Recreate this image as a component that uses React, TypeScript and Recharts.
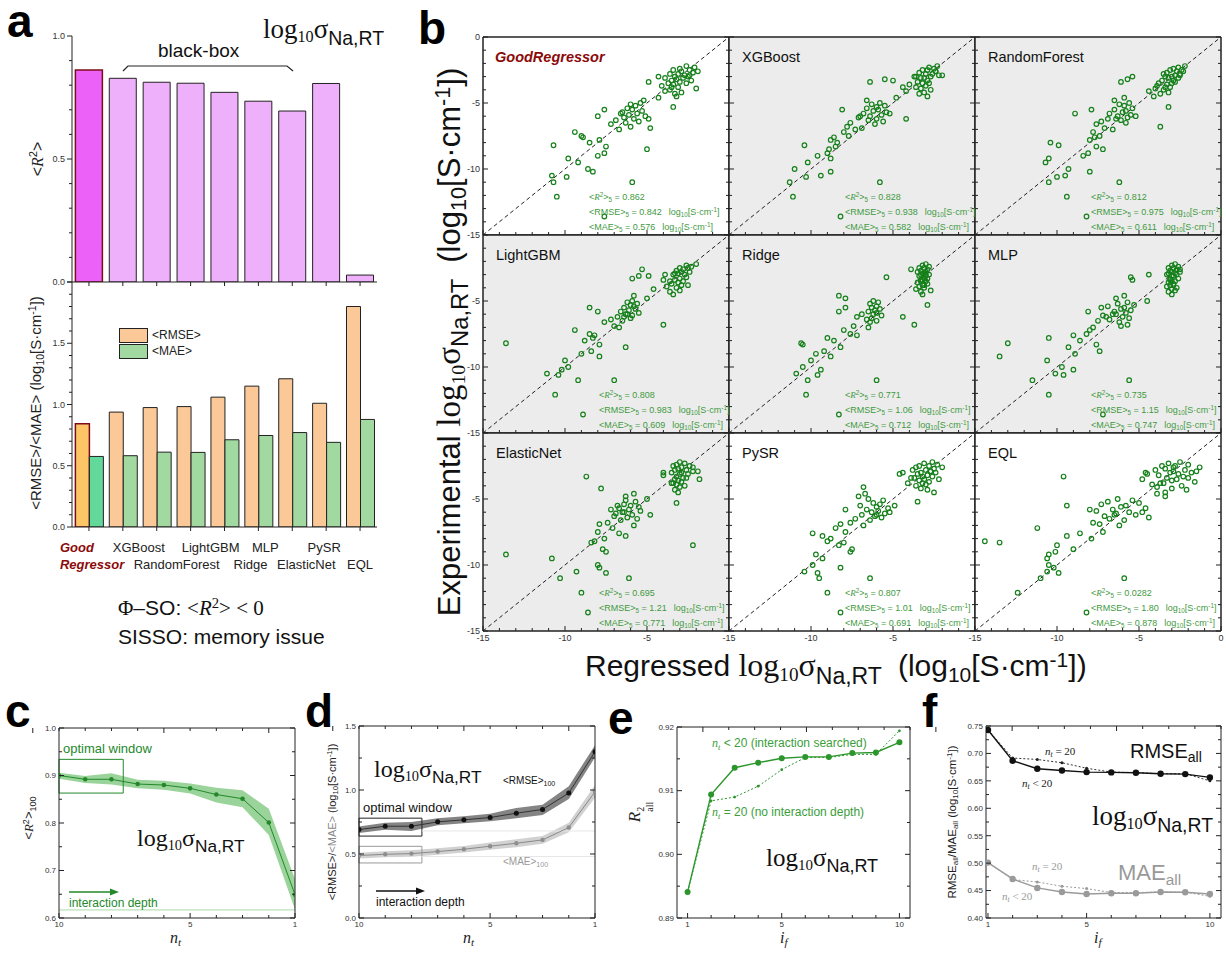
import React from 'react';
import {
  BarChart,
  Bar,
  Cell,
  XAxis,
  YAxis,
  ScatterChart,
  Scatter,
  ComposedChart,
  Line,
  Area,
  ReferenceLine,
  ReferenceArea,
  CartesianGrid,
} from 'recharts';

const SANS = '"Liberation Sans", Arial, Helvetica, sans-serif';
const SERIF = '"Liberation Serif", "Times New Roman", serif';

// ---- panel a / b: five-fold averages per model
const models = ['GoodRegressor', 'XGBoost', 'RandomForest', 'LightGBM', 'Ridge', 'MLP', 'ElasticNet', 'PySR', 'EQL'];
const r2Mean = [0.862, 0.828, 0.812, 0.808, 0.771, 0.735, 0.695, 0.807, 0.0282];
const rmseMean = [0.842, 0.938, 0.975, 0.983, 1.06, 1.15, 1.21, 1.01, 1.8];
const maeMean = [0.576, 0.582, 0.611, 0.609, 0.712, 0.747, 0.771, 0.691, 0.878];

// ---- panel b: experimental log10 sigma (shared) and regressed values per model
const experimental = [
  -2.2, -2.3, -2.4, -2.5, -2.5, -2.6, -2.7, -2.8, -2.8, -2.9,
  -3.0, -3.0, -3.1, -3.1, -3.2, -3.3, -3.3, -3.4, -3.5, -3.5,
  -3.6, -3.7, -3.8, -3.9, -4.0, -4.1, -4.2, -4.3, -4.5, -2.6,
  -3.0, -3.4, -3.8, -2.9,
  -5.0, -5.1, -5.2, -5.3, -5.4, -5.5, -5.6, -5.7, -5.8, -5.9,
  -6.0, -6.1, -6.2, -6.3, -6.4, -6.5, -6.6, -6.8, -7.0, -5.5,
  -5.8, -6.0, -6.2, -4.8, -4.6, -6.9,
  -7.2, -7.5, -7.8, -8.0, -8.2, -8.3, -8.5, -9.0, -9.2, -9.5,
  -10.0, -10.2, -10.5, -10.6, -11.0, -11.0, -12.1, -13.6, -7.6, -8.8,
];
const predGood = [
  -2.6, -2.1, -3.0, -2.4, -3.4, -2.9, -2.2, -3.1, -3.6, -2.7, -3.3, -2.5, -3.9, -2.8, -3.2, -3.5, -2.3, -3.0, -3.7, -2.6,
  -3.4, -4.1, -3.1, -2.0, -3.6, -3.9, -2.9, -3.3, -3.2, -1.9, -4.3, -4.9, -3.5, -2.4,
  -5.4, -6.0, -5.7, -3.4, -6.2, -5.9, -5.3, -6.5, -5.6, -6.1, -5.1, -6.4, -5.8, -6.9, -5.5, -6.3, -7.2, -6.0, -6.7, -7.6,
  -6.6, -8.0, -4.9, -5.2, -4.3, -4.8,
  -9.4, -9.0, -7.9, -8.5, -10.7, -7.5, -5.0, -8.0, -9.8, -9.2, -8.6, -8.3, -10.8, -9.9, -10.7, -5.9, -10.5, -7.6, -8.9, -7.6,
];
const predXGB = [
  -2.3, -2.8, -2.5, -3.2, -2.9, -2.4, -3.4, -2.6, -3.0, -2.2, -3.6, -2.7, -3.1, -3.3, -5.5, -5.0, -2.9, -3.5, -2.8, -3.2,
  -4.0, -3.0, -3.6, -3.3, -2.7, -4.2, -3.1, -3.4, -2.9, -2.4, -3.7, -6.4, -4.4, -2.0,
  -5.8, -6.3, -5.5, -6.0, -6.6, -5.9, -6.2, -5.4, -6.8, -5.7, -6.4, -7.1, -6.0, -6.5, -5.6, -7.6, -6.1, -7.8, -7.3, -8.1,
  -5.2, -7.0, -4.2, -6.6, -4.8, -6.9,
  -8.0, -7.7, -8.8, -8.4, -10.4, -8.5, -8.9, -9.6, -8.8, -10.2, -11.0, -8.8, -9.4, -10.3, -11.3, -5.8, -11.1, -8.2, -8.6, -9.0,
];
const predRF = [
  -2.2, -2.6, -2.9, -2.4, -3.1, -2.7, -3.3, -2.5, -3.5, -2.8, -3.0, -3.4, -2.6, -3.2, -5.7, -2.9, -3.6, -6.1, -3.0, -3.8,
  -3.3, -3.9, -3.1, -4.0, -3.5, -4.4, -3.2, -3.7, -4.1, -2.3, -5.4, -2.8, -3.4, -2.5,
  -5.6, -6.2, -5.9, -3.2, -5.4, -6.5, -5.8, -6.0, -6.8, -5.5, -6.3, -5.7, -6.9, -6.1, -7.3, -5.8, -7.6, -3.7, -6.6, -7.9,
  -8.9, -5.2, -6.4, -6.5, -5.9, -7.1,
  -7.8, -7.4, -8.0, -10.4, -9.9, -7.6, -7.2, -8.4, -10.5, -10.7, -9.3, -8.0, -9.5, -10.0, -10.5, -6.2, -9.4, -8.2, -7.7, -8.1,
];
const predLGBM = [
  -2.0, -2.6, -2.3, -3.0, -2.5, -2.8, -3.2, -2.4, -2.9, -3.1, -2.7, -3.4, -4.9, -5.5, -2.6, -3.0, -5.9, -3.3, -2.8, -3.6,
  -3.1, -3.5, -2.9, -3.8, -3.2, -4.6, -3.0, -3.6, -3.4, -5.3, -3.9, -4.0, -2.5, -3.3,
  -5.9, -6.2, -5.6, -6.0, -5.8, -6.4, -5.7, -6.1, -6.6, -5.5, -6.3, -5.9, -6.8, -6.0, -7.2, -6.5, -7.6, -4.0, -6.7, -8.5,
  -8.0, -6.2, -6.4, -5.0, -5.8, -7.0,
  -9.4, -8.5, -8.3, -8.8, -13.6, -7.9, -6.3, -9.0, -7.9, -10.0, -9.8, -10.2, -11.1, -10.4, -9.2, -7.0, -10.6, -8.9, -8.2, -8.4,
];
const predRidge = [
  -3.0, -3.2, -2.8, -3.4, -3.1, -2.9, -3.3, -3.0, -3.5, -3.1, -2.8, -3.3, -3.0, -3.4, -5.4, -3.1, -2.9, -3.2, -3.3, -3.0,
  -3.5, -2.9, -3.2, -3.4, -3.1, -3.6, -2.7, -3.3, -3.2, -3.9, -3.0, -3.3, -3.1, -3.2,
  -6.2, -5.9, -6.4, -2.9, -6.0, -6.3, -5.8, -6.1, -6.5, -6.0, -6.2, -5.7, -4.4, -6.3, -6.6, -6.0, -6.4, -3.7, -6.5, -7.9,
  -8.3, -6.9, -7.2, -7.9, -8.3, -7.4,
  -8.0, -7.6, -9.0, -8.6, -10.6, -10.5, -8.2, -9.7, -8.8, -10.0, -10.5, -9.4, -10.9, -9.6, -10.2, -6.0, -10.3, -8.3, -7.2, -9.2,
];
const predMLP = [
  -2.8, -3.0, -2.6, -3.2, -2.9, -2.7, -3.1, -2.5, -3.0, -2.8, -3.3, -2.7, -3.0, -2.9, -5.5, -3.1, -2.6, -5.4, -3.0, -2.8,
  -3.2, -2.9, -3.1, -3.3, -2.7, -3.0, -2.8, -3.2, -3.0, -2.5, -4.4, -3.1, -2.9, -3.2,
  -4.5, -5.7, -6.3, -5.3, -6.9, -5.9, -6.1, -5.5, -6.5, -5.8, -6.4, -7.2, -6.0, -5.6, -6.8, -7.5, -6.2, -5.7, -7.8, -7.3,
  -8.1, -6.6, -7.0, -6.4, -5.9, -6.1,
  -8.0, -8.2, -10.5, -8.6, -13.0, -7.6, -9.3, -8.9, -13.5, -10.6, -9.7, -9.0, -10.1, -9.6, -11.5, -5.6, -10.5, -7.2, -9.0, -7.4,
];
const predEN = [
  -3.0, -2.7, -3.2, -2.4, -3.4, -2.9, -3.1, -2.6, -3.3, -2.2, -2.9, -3.5, -2.5, -3.0, -4.0, -3.2, -8.7, -2.8, -3.3, -1.8,
  -3.1, -2.9, -3.4, -3.2, -2.7, -3.0, -7.8, -3.3, -3.1, -2.2, -4.0, -2.6, -3.5, -1.9,
  -5.0, -6.3, -5.7, -3.2, -6.4, -6.0, -5.5, -6.7, -6.1, -5.4, -6.4, -6.9, -5.9, -7.0, -6.2, -5.6, -6.6, -7.4, -5.8, -6.8,
  -7.2, -6.5, -4.8, -6.3, -5.8, -7.9,
  -7.1, -8.0, -6.3, -7.6, -8.2, -8.4, -2.2, -7.5, -13.6, -10.8, -8.0, -7.9, -9.3, -7.5, -10.3, -6.1, -9.0, -8.6, -6.7, -7.7,
];
const predPySR = [
  -2.6, -3.1, -2.3, -3.4, -2.8, -3.6, -2.5, -3.0, -3.8, -2.7, -3.3, -2.4, -4.6, -3.5, -2.9, -3.2, -2.6, -3.9, -3.1, -2.2,
  -3.4, -2.8, -4.1, -3.0, -3.6, -6.8, -3.3, -2.9, -2.5, -2.0, -4.4, -3.7, -3.2, -2.7,
  -6.5, -5.6, -3.5, -6.2, -5.8, -7.0, -6.0, -5.3, -6.6, -5.9, -6.3, -5.5, -6.9, -6.1, -5.7, -7.3, -6.4, -7.6, -6.8, -4.9,
  -7.9, -5.2, -6.0, -7.1, -6.7, -8.2,
  -8.5, -7.9, -9.3, -8.8, -9.0, -8.0, -8.3, -7.6, -9.7, -9.3, -9.9, -8.2, -10.4, -9.6, -9.5, -6.4, -9.0, -8.2, -9.9, -7.5,
];
const predEQL = [
  -2.5, -3.2, -2.0, -3.6, -2.8, -1.3, -3.4, -2.2, -4.0, -2.9, -1.8, -3.1, -4.5, -2.6, -3.8, -9.6, -2.3, -3.3, -4.8, -2.7,
  -3.0, -1.6, -3.5, -4.2, -2.4, -3.9, -3.0, -2.1, -3.4, -2.9, -4.6, -2.0, -3.7, -1.5,
  -6.3, -5.4, -6.9, -5.0, -7.3, -5.8, -6.1, -4.6, -6.6, -7.6, -5.6, -6.4, -5.2, -7.1, -4.4, -6.8, -5.9, -7.8, -6.2, -9.4,
  -8.0, -4.8, -6.5, -3.4, -3.9, -7.4,
  -11.2, -7.2, -9.4, -7.9, -14.4, -13.5, -10.0, -10.1, -10.5, -10.6, -10.5, -10.2, -10.6, -9.9, -11.0, -5.9, -12.4, -8.2, -8.6, -9.0,
];
const predicted = [predGood, predXGB, predRF, predLGBM, predRidge, predMLP, predEN, predPySR, predEQL];

// ---- panel c / d: versus interaction depth n_t
const nt = [10, 9, 8, 7, 6, 5, 4, 3, 2, 1];
const r2At = [0.9, 0.892, 0.892, 0.882, 0.88, 0.873, 0.86, 0.851, 0.801, 0.649];
const r2Lo = [0.893, 0.884, 0.881, 0.873, 0.87, 0.862, 0.843, 0.833, 0.775, 0.618];
const r2Hi = [0.906, 0.899, 0.905, 0.891, 0.889, 0.883, 0.874, 0.869, 0.83, 0.682];
const rmseAt = [0.691, 0.717, 0.717, 0.751, 0.767, 0.785, 0.819, 0.848, 0.976, 1.299];
const rmseLo = [0.665, 0.69, 0.68, 0.725, 0.74, 0.755, 0.78, 0.805, 0.93, 1.255];
const rmseHi = [0.715, 0.745, 0.75, 0.78, 0.795, 0.815, 0.86, 0.885, 1.03, 1.35];
const maeAt = [0.488, 0.498, 0.503, 0.519, 0.537, 0.561, 0.584, 0.61, 0.707, 0.986];
const maeLo = [0.465, 0.475, 0.478, 0.495, 0.512, 0.533, 0.553, 0.58, 0.67, 0.94];
const maeHi = [0.51, 0.522, 0.53, 0.545, 0.562, 0.59, 0.615, 0.64, 0.745, 1.04];
const r2AxisTicks = [0.6, 0.65, 0.7, 0.75, 0.8, 0.85, 0.9, 0.95, 1.0];

// ---- panel e / f: versus i_f
const iF = [1, 2, 3, 4, 5, 6, 7, 8, 9, 10];
const r2Searched = [0.8941, 0.9094, 0.9136, 0.9144, 0.9151, 0.9153, 0.9153, 0.9159, 0.916, 0.9176];
const r2Fixed = [0.8941, 0.9084, 0.909, 0.9107, 0.9133, 0.9152, 0.9152, 0.9157, 0.9157, 0.9194];
const rmseSearched = [0.7427, 0.6867, 0.672, 0.669, 0.666, 0.6654, 0.6648, 0.663, 0.6623, 0.6563];
const rmseFixed = [0.7427, 0.6916, 0.689, 0.683, 0.673, 0.666, 0.665, 0.663, 0.663, 0.65];
const maeSearched = [0.501, 0.4712, 0.4548, 0.4475, 0.4438, 0.445, 0.445, 0.4475, 0.4469, 0.4438];
const maeFixed = [0.501, 0.47, 0.4657, 0.4578, 0.4536, 0.4463, 0.4463, 0.4475, 0.447, 0.4396];

// helpers
const steps = (a: number, b: number, s: number) => {
  const out: number[] = [];
  for (let k = 0; a + k * s <= b + 1e-9; k++) out.push(Math.round((a + k * s) * 10000) / 10000);
  return out;
};
const every = (s: number) => (v: number) => Math.abs(v / s - Math.round(v / s)) < 1e-6;
const fixed = (d: number) => (v: number) => v.toFixed(d);
// widen a domain by a hair so end ticks are not lost to float rounding
const pad = (a: number, b: number) => [a - (b - a) * 1e-6, b + (b - a) * 1e-6];

type Side = 'bottom' | 'top' | 'left' | 'right';
const makeTick = (o: {
  side: Side;
  isMajor?: (v: number) => boolean;
  label?: (v: number) => string | null;
  outward?: boolean;
  major?: number;
  minor?: number;
  fontSize?: number;
  gap?: number;
}) => (p: any) => {
  const { x, y, payload } = p;
  const v = payload.value;
  const maj = o.isMajor ? o.isMajor(v) : true;
  const len = maj ? o.major ?? 5 : o.minor ?? 3;
  const dir = o.side === 'bottom' ? [0, 1] : o.side === 'top' ? [0, -1] : o.side === 'left' ? [-1, 0] : [1, 0];
  const s = o.outward ? 1 : -1;
  const label = maj && o.label ? o.label(v) : null;
  const fs = o.fontSize ?? 9;
  const off = (o.gap ?? 3) + (o.outward ? len : 0);
  const tx = x + dir[0] * off;
  let ty = y + dir[1] * off;
  let anchor = 'middle';
  if (o.side === 'bottom') ty += fs * 0.8;
  if (o.side === 'left') { anchor = 'end'; ty += fs * 0.35; }
  if (o.side === 'right') { anchor = 'start'; ty += fs * 0.35; }
  return (
    <g>
      <line x1={x} y1={y} x2={x + dir[0] * len * s} y2={y + dir[1] * len * s} stroke="#222" strokeWidth={1} />
      {label !== null && (
        <text x={tx} y={ty} textAnchor={anchor} fontSize={fs} fontFamily={SANS} fill="#333">
          {label}
        </text>
      )}
    </g>
  );
};

// axes need a non-zero size to render, so each takes 1px and the margins give that 1px back
const AX = 1;
const shrink = (m: { top: number; right: number; bottom: number; left: number }) => ({
  top: m.top - AX,
  right: m.right - AX,
  bottom: m.bottom - AX,
  left: m.left - AX,
});

function frame(o: {
  xKey: string;
  yKey?: string;
  xDomain: number[];
  yDomain: number[];
  xTicks: number[];
  yTicks: number[];
  xMajor: (v: number) => boolean;
  yMajor: (v: number) => boolean;
  xFmt?: (v: number) => string | null;
  yFmt?: (v: number) => string | null;
  reversed?: boolean;
  fs?: number;
  axisWidth?: number;
}) {
  const ax = { stroke: '#222', strokeWidth: o.axisWidth ?? 1 };
  const base: any = { type: 'number', interval: 0, tickSize: 0, tickMargin: 0, tickLine: false, axisLine: ax, allowDataOverflow: true };
  const xd = pad(o.xDomain[0], o.xDomain[1]);
  const yd = pad(o.yDomain[0], o.yDomain[1]);
  return [
    <XAxis key="xb" dataKey={o.xKey} domain={xd} ticks={o.xTicks} reversed={o.reversed} height={AX} {...base}
      tick={makeTick({ side: 'bottom', isMajor: o.xMajor, label: o.xFmt, fontSize: o.fs })} />,
    <XAxis key="xt" xAxisId="t" orientation="top" domain={xd} ticks={o.xTicks} reversed={o.reversed} height={AX} {...base}
      tick={makeTick({ side: 'top', isMajor: o.xMajor })} />,
    <YAxis key="yl" dataKey={o.yKey} domain={yd} ticks={o.yTicks} width={AX} {...base}
      tick={makeTick({ side: 'left', isMajor: o.yMajor, label: o.yFmt, fontSize: o.fs })} />,
    <YAxis key="yr" yAxisId="r" orientation="right" domain={yd} ticks={o.yTicks} width={AX} {...base}
      tick={makeTick({ side: 'right', isMajor: o.yMajor })} />,
  ];
}

const Sub = ({ children, size = '0.7em', drop = '-0.3em', style }: any) => (
  <span style={{ fontSize: size, verticalAlign: drop, ...style }}>{children}</span>
);
const Sup = ({ children, size = '0.7em', rise = '0.45em' }: any) => (
  <span style={{ fontSize: size, verticalAlign: rise }}>{children}</span>
);
const LogSigma = ({ size }: { size: number }) => (
  <span style={{ fontSize: size }}>
    <span style={{ fontFamily: SERIF }}>
      log<Sub size="0.6em" drop="-0.25em">10</Sub>σ
    </span>
    <Sub size="0.72em" drop="-0.35em" style={{ fontFamily: SANS }}>Na,RT</Sub>
  </span>
);
const Unit = () => (
  <>
    log<Sub>10</Sub>[S·cm<Sup>-1</Sup>]
  </>
);
const Nt = () => (
  <span style={{ fontFamily: SERIF, fontStyle: 'italic' }}>
    n<Sub>t</Sub>
  </span>
);
const IFs = () => (
  <span style={{ fontFamily: SERIF, fontStyle: 'italic' }}>
    i<Sub>f</Sub>
  </span>
);
const R2 = () => (
  <>
    <i style={{ fontFamily: SERIF }}>R</i>
    <Sup>2</Sup>
  </>
);

const T = ({ x, y, children, style }: any) => (
  <div style={{ position: 'absolute', left: x, top: y, whiteSpace: 'nowrap', lineHeight: 1, ...style }}>{children}</div>
);
const VText = ({ x, y, children, style }: any) => (
  <div style={{ position: 'absolute', left: x, top: y, transform: 'translate(-50%,-50%) rotate(-90deg)', whiteSpace: 'nowrap', lineHeight: 1, ...style }}>
    {children}
  </div>
);

// ---- panel a
const barRows = models.map((name, i) => ({ name, r2: r2Mean[i], rmse: rmseMean[i], mae: maeMean[i] }));
const catShift = [0, 16, 20, 20, 26, 7, 14, -2, 0];
const CatTick = (p: any) => {
  const { x, y, index } = p;
  const tl = <line x1={x} y1={y} x2={x} y2={y + 4} stroke="#222" />;
  if (index === 0) {
    return (
      <g>
        {tl}
        <text x={x - 29} y={y + 25} fontSize={13} fontWeight="bold" fontStyle="italic" fill="#8b0a0a" fontFamily={SANS}>Good</text>
        <text x={x - 29} y={y + 42} fontSize={13} fontWeight="bold" fontStyle="italic" fill="#8b0a0a" fontFamily={SANS}>Regressor</text>
      </g>
    );
  }
  return (
    <g>
      {tl}
      <text x={x + catShift[index]} y={index % 2 === 1 ? y + 25 : y + 42} textAnchor="middle" fontSize={13} fill="#222" fontFamily={SANS}>
        {models[index]}
      </text>
    </g>
  );
};
const PlainTick = (p: any) => <line x1={p.x} y1={p.y} x2={p.x} y2={p.y + 4} stroke="#222" />;

function PanelA() {
  const axBase: any = { interval: 0, tickSize: 0, tickMargin: 0, tickLine: false, axisLine: { stroke: '#222' } };
  return (
    <>
      <div style={{ position: 'absolute', left: 32, top: 30 }}>
        <BarChart width={351} height={258} data={barRows} margin={{ top: 6, right: 6, bottom: 6 - AX, left: 40 - AX }} barCategoryGap="10%">
          <XAxis dataKey="name" height={AX} {...axBase} tick={PlainTick} />
          <YAxis type="number" domain={pad(0, 1)} ticks={steps(0, 1, 0.1)} width={AX} allowDataOverflow {...axBase}
            tick={makeTick({ side: 'left', outward: true, isMajor: every(0.5), label: fixed(1), fontSize: 9, gap: 2 })} />
          <Bar dataKey="r2" isAnimationActive={false}>
            {barRows.map((_, i) => (
              <Cell key={i} fill={i === 0 ? '#ec62f9' : '#efb0fb'} stroke={i === 0 ? '#7d0c18' : '#222'} strokeWidth={i === 0 ? 1.5 : 1} />
            ))}
          </Bar>
        </BarChart>
      </div>
      <div style={{ position: 'absolute', left: 32, top: 282 }}>
        <BarChart width={351} height={295} data={barRows} margin={{ top: 0, right: 6, bottom: 50 - AX, left: 40 - AX }} barCategoryGap="10%" barGap={0}>
          <XAxis dataKey="name" height={AX} {...axBase} tick={CatTick} />
          <YAxis type="number" domain={pad(0, 2)} ticks={steps(0, 2, 0.1)} width={AX} allowDataOverflow {...axBase}
            tick={makeTick({ side: 'left', outward: true, isMajor: every(0.5), label: (v) => (v >= 2 ? null : v.toFixed(1)), fontSize: 9, gap: 2 })} />
          <Bar dataKey="rmse" isAnimationActive={false}>
            {barRows.map((_, i) => (
              <Cell key={i} fill={i === 0 ? '#fcc566' : '#fbc898'} stroke={i === 0 ? '#7d0c18' : '#222'} strokeWidth={i === 0 ? 1.5 : 1} />
            ))}
          </Bar>
          <Bar dataKey="mae" isAnimationActive={false}>
            {barRows.map((_, i) => (
              <Cell key={i} fill={i === 0 ? '#62d89b' : '#a2d9a0'} stroke="#222" strokeWidth={1} />
            ))}
          </Bar>
        </BarChart>
      </div>
      {/* legend */}
      <div style={{ position: 'absolute', left: 119, top: 328, width: 27, height: 13, background: '#fbc898', border: '1px solid #222' }} />
      <div style={{ position: 'absolute', left: 119, top: 344, width: 27, height: 13, background: '#a2d9a0', border: '1px solid #222' }} />
      <T x={152} y={329} style={{ fontSize: 12, fontFamily: SANS, color: '#222' }}>&lt;RMSE&gt;</T>
      <T x={152} y={345} style={{ fontSize: 12, fontFamily: SANS, color: '#222' }}>&lt;MAE&gt;</T>
      <T x={158} y={41} style={{ fontSize: 19, fontFamily: SANS, color: '#111' }}>black-box</T>
      <T x={263} y={16} style={{ color: '#111' }}><LogSigma size={27} /></T>
      <VText x={37} y={159} style={{ fontSize: 16, fontFamily: SANS, color: '#222' }}>&lt;<R2 />&gt;</VText>
      <VText x={36} y={403} style={{ fontSize: 15, fontFamily: SANS, color: '#222' }}>
        &lt;RMSE&gt;/&lt;MAE&gt; (<Unit />)
      </VText>
      <T x={118} y={596} style={{ fontSize: 21, color: '#111' }}>
        <span style={{ fontFamily: SERIF }}>Φ</span>
        <span style={{ fontFamily: SANS }}>–SO: </span>
        <span style={{ fontFamily: SERIF }}>&lt;<i>R</i><Sup>2</Sup>&gt; &lt; 0</span>
      </T>
      <T x={118} y={626} style={{ fontSize: 21, fontFamily: SANS, color: '#111' }}>SISSO: memory issue</T>
    </>
  );
}

// ---- panel b
const B_X = 483;
const B_Y = 37;
const B_W = 246;
const B_H = 198;
const PM = { top: 6, right: 6, bottom: 18, left: 30 };
const grayBg = [false, true, true, true, true, true, true, false, false];
const scatterTicks = steps(-15, 0, 1);

const Ring = (p: any) => <circle cx={p.cx} cy={p.cy} r={2.3} fill="none" stroke="#15801a" strokeWidth={1.2} />;

function ScatterCell({ i }: { i: number }) {
  const row = Math.floor(i / 3);
  const col = i % 3;
  const left = B_X + col * B_W;
  const top = B_Y + row * B_H;
  const pts = experimental.map((e, k) => ({ x: predicted[i][k], y: e }));
  return (
    <div style={{ position: 'absolute', left: left - PM.left, top: top - PM.top }}>
      <ScatterChart width={B_W + PM.left + PM.right} height={B_H + PM.top + PM.bottom} margin={shrink(PM)}>
        <CartesianGrid horizontal={false} vertical={false} fill={grayBg[i] ? '#ececec' : '#ffffff'} />
        {frame({
          xKey: 'x',
          yKey: 'y',
          xDomain: [-15, 0],
          yDomain: [-15, 0],
          xTicks: scatterTicks,
          yTicks: scatterTicks,
          xMajor: every(5),
          yMajor: every(5),
          xFmt: row === 2 ? (v) => (col < 2 && v === 0 ? null : String(v)) : undefined,
          yFmt: col === 0 ? (v) => (row > 0 && v === 0 ? null : String(v)) : undefined,
          fs: 9,
          axisWidth: 1.5,
        })}
        <ReferenceLine segment={[{ x: -15, y: -15 }, { x: 0, y: 0 }]} stroke="#222" strokeDasharray="4 3" strokeWidth={1} />
        <Scatter data={pts} shape={Ring} isAnimationActive={false} />
      </ScatterChart>
    </div>
  );
}

const metricLine = { height: 15, lineHeight: '15px', overflow: 'visible' as const };

function ScatterText({ i }: { i: number }) {
  const row = Math.floor(i / 3);
  const col = i % 3;
  const left = B_X + col * B_W;
  const top = B_Y + row * B_H;
  const good = i === 0;
  return (
    <>
      <T x={left + (good ? 12 : 13)} y={top + 13}
        style={{ fontSize: 14.5, fontFamily: SANS, color: good ? '#8b0a0a' : '#111', fontWeight: good ? 'bold' : 'normal', fontStyle: good ? 'italic' : 'normal' }}>
        {models[i]}
      </T>
      <div style={{ position: 'absolute', left: left + (good ? 106 : 116), top: top + 150, fontSize: 9, color: '#3f9a3f', fontFamily: SANS, whiteSpace: 'nowrap' }}>
        <div style={metricLine}>&lt;<R2 />&gt;<Sub>5</Sub> = {r2Mean[i].toPrecision(3)}</div>
        <div style={metricLine}>&lt;RMSE&gt;<Sub>5</Sub> = {rmseMean[i].toPrecision(3)}<span style={{ marginLeft: 7 }}><Unit /></span></div>
        <div style={metricLine}>&lt;MAE&gt;<Sub>5</Sub> = {maeMean[i].toPrecision(3)}<span style={{ marginLeft: 7 }}><Unit /></span></div>
      </div>
    </>
  );
}

function PanelB() {
  return (
    <>
      {models.map((_, i) => (
        <ScatterCell key={i} i={i} />
      ))}
      {models.map((_, i) => (
        <ScatterText key={i} i={i} />
      ))}
      <VText x={452} y={342} style={{ fontSize: 31, fontFamily: SANS, color: '#111' }}>
        Experimental <LogSigma size={33} />
        <span style={{ marginLeft: 16 }}>(<Unit />)</span>
      </VText>
      <T x={585} y={649} style={{ fontSize: 30, fontFamily: SANS, color: '#111' }}>
        Regressed <LogSigma size={32} />
        <span style={{ marginLeft: 16 }}>(<Unit />)</span>
      </T>
    </>
  );
}

// ---- panels c-f
const LM = { top: 10, right: 6, bottom: 22, left: 34 };
const box = (px: number, py: number, w: number, h: number, m = LM) => ({
  pos: { position: 'absolute' as const, left: px - m.left, top: py - m.top },
  w: w + m.left + m.right,
  h: h + m.top + m.bottom,
});

const cRows = nt.map((n, k) => ({ n, v: r2At[k], band: [r2Lo[k], r2Hi[k]] }));
const dRows = nt.map((n, k) => ({ n, rmse: rmseAt[k], rBand: [rmseLo[k], rmseHi[k]], mae: maeAt[k], mBand: [maeLo[k], maeHi[k]] }));
const eRows = iF.map((f, k) => ({ f, s: r2Searched[k], x: r2Fixed[k] }));
const fRows = iF.map((f, k) => ({ f, rs: rmseSearched[k], rx: rmseFixed[k], ms: maeSearched[k], mx: maeFixed[k] }));
const ntLabel = (v: number) => (v === 10 || v === 5 || v === 1 ? String(v) : null);

function PanelC() {
  const cm = { top: 14, right: 6, bottom: 22, left: 40 };
  const b = box(59, 728, 236, 190, cm);
  const green = '#23882a';
  return (
    <>
      <div style={b.pos}>
        <ComposedChart width={b.w} height={b.h} data={cRows} margin={shrink(cm)}>
          {frame({ xKey: 'n', xDomain: [1, 10], yDomain: [0.6, 1], xTicks: steps(1, 10, 1), yTicks: r2AxisTicks, xMajor: (v) => ntLabel(v) !== null, yMajor: every(0.1), xFmt: ntLabel, yFmt: fixed(1), reversed: true, fs: 8 })}
          <ReferenceLine y={0.617} stroke="#a8dba8" strokeWidth={1} />
          <Area dataKey="band" stroke="none" fill="#88cc88" fillOpacity={0.85} isAnimationActive={false} />
          <Line dataKey="v" stroke={green} strokeWidth={1} dot={{ r: 2.3, fill: green, stroke: green, strokeWidth: 0 }} isAnimationActive={false} />
          <ReferenceArea x1={10} x2={7.55} y1={0.863} y2={0.934} fill="none" stroke={green} strokeWidth={1} />
        </ComposedChart>
      </div>
      <T x={63} y={742} style={{ fontSize: 13, fontFamily: SANS, color: green }}>optimal window</T>
      <T x={137} y={826} style={{ color: '#111' }}><LogSigma size={24} /></T>
      <T x={69} y={897} style={{ fontSize: 12, fontFamily: SANS, color: green }}>interaction depth</T>
      <VText x={30} y={818} style={{ fontSize: 13, fontFamily: SANS, color: '#222' }}>&lt;<R2 />&gt;<Sub>100</Sub></VText>
      <T x={170} y={930} style={{ fontSize: 16, color: '#222' }}><Nt /></T>
    </>
  );
}

function PanelD() {
  const b = box(359, 726, 236, 192);
  return (
    <>
      <div style={b.pos}>
        <ComposedChart width={b.w} height={b.h} data={dRows} margin={shrink(LM)}>
          {frame({ xKey: 'n', xDomain: [1, 10], yDomain: [0, 1.5], xTicks: steps(1, 10, 1), yTicks: steps(0, 1.5, 0.25), xMajor: (v) => ntLabel(v) !== null, yMajor: every(0.5), xFmt: ntLabel, yFmt: fixed(1), reversed: true, fs: 8 })}
          <ReferenceLine segment={[{ x: 7.6, y: 0.68 }, { x: 1, y: 0.68 }]} stroke="#e6e6e6" />
          <ReferenceLine segment={[{ x: 7.6, y: 0.48 }, { x: 1, y: 0.48 }]} stroke="#e6e6e6" />
          <Area dataKey="mBand" stroke="none" fill="#c9c9c9" fillOpacity={0.85} isAnimationActive={false} />
          <Area dataKey="rBand" stroke="none" fill="#6f6f6f" fillOpacity={0.85} isAnimationActive={false} />
          <Line dataKey="mae" stroke="#8a8a8a" strokeWidth={1} dot={{ r: 2.2, fill: '#8e8e8e', stroke: '#8e8e8e', strokeWidth: 0 }} isAnimationActive={false} />
          <Line dataKey="rmse" stroke="#333" strokeWidth={1} dot={{ r: 2.5, fill: '#111', stroke: '#111', strokeWidth: 0 }} isAnimationActive={false} />
          <ReferenceArea x1={10} x2={7.6} y1={0.64} y2={0.78} fill="none" stroke="#222" strokeWidth={1} />
          <ReferenceArea x1={10} x2={7.6} y1={0.43} y2={0.56} fill="none" stroke="#999" strokeWidth={1} />
        </ComposedChart>
      </div>
      <T x={374} y={757} style={{ color: '#111' }}><LogSigma size={24} /></T>
      <T x={503} y={776} style={{ fontSize: 10, fontFamily: SANS, color: '#111' }}>&lt;RMSE&gt;<Sub>100</Sub></T>
      <T x={363} y={801} style={{ fontSize: 13, fontFamily: SANS, color: '#111' }}>optimal window</T>
      <T x={503} y={857} style={{ fontSize: 10, fontFamily: SANS, color: '#999' }}>&lt;MAE&gt;<Sub>100</Sub></T>
      <T x={376} y={896} style={{ fontSize: 12, fontFamily: SANS, color: '#111' }}>interaction depth</T>
      <VText x={333} y={822} style={{ fontSize: 11, fontFamily: SANS, color: '#222' }}>
        &lt;RMSE&gt;/<span style={{ color: '#888' }}>&lt;MAE&gt;</span> (<Unit />)
      </VText>
      <T x={463} y={930} style={{ fontSize: 16, color: '#222' }}><Nt /></T>
    </>
  );
}

function PanelE() {
  const b = box(677, 727, 233, 191);
  const green = '#2c962c';
  return (
    <>
      <div style={b.pos}>
        <ComposedChart width={b.w} height={b.h} data={eRows} margin={shrink(LM)}>
          {frame({ xKey: 'f', xDomain: [0.55, 10.45], yDomain: [0.89, 0.92], xTicks: steps(1, 10, 1), yTicks: steps(0.89, 0.92, 0.005), xMajor: (v) => v === 1 || v === 5 || v === 10, yMajor: every(0.01), xFmt: String, yFmt: fixed(2), fs: 8 })}
          <Line dataKey="x" stroke={green} strokeWidth={1} strokeDasharray="2 2" dot={{ r: 1.4, fill: green, stroke: green, strokeWidth: 0 }} isAnimationActive={false} />
          <Line dataKey="s" stroke={green} strokeWidth={1.4} dot={{ r: 3, fill: green, stroke: green, strokeWidth: 0 }} isAnimationActive={false} />
        </ComposedChart>
      </div>
      <T x={712} y={737} style={{ fontSize: 12, fontFamily: SANS, color: '#3a9e3a' }}><Nt /> &lt; 20 (interaction searched)</T>
      <T x={712} y={806} style={{ fontSize: 12, fontFamily: SANS, color: '#3a9e3a' }}><Nt /> = 20 (no interaction depth)</T>
      <T x={766} y={845} style={{ color: '#111' }}><LogSigma size={25} /></T>
      <VText x={640} y={812} style={{ fontSize: 17, color: '#222' }}>
        <i style={{ fontFamily: SERIF }}>R</i>
        <span style={{ display: 'inline-flex', flexDirection: 'column', fontSize: 10, fontFamily: SERIF, lineHeight: 0.95, verticalAlign: '-0.35em' }}>
          <span>2</span>
          <span>all</span>
        </span>
      </VText>
      <T x={780} y={930} style={{ fontSize: 16, color: '#222' }}><IFs /></T>
    </>
  );
}

function PanelF() {
  const b = box(986, 726, 235, 192);
  const m = { ...LM, right: 4 };
  return (
    <>
      <div style={{ ...b.pos }}>
        <ComposedChart width={b.w - 2} height={b.h} data={fRows} margin={shrink(m)}>
          {frame({ xKey: 'f', xDomain: [0.92, 10.45], yDomain: [0.4, 0.75], xTicks: steps(1, 10, 1), yTicks: steps(0.4, 0.75, 0.025), xMajor: (v) => v === 1 || v === 5 || v === 10, yMajor: every(0.05), xFmt: String, yFmt: fixed(2), fs: 8 })}
          <Line dataKey="mx" stroke="#9a9a9a" strokeWidth={1} strokeDasharray="2 2" dot={{ r: 1.5, fill: '#9a9a9a', stroke: '#9a9a9a', strokeWidth: 0 }} isAnimationActive={false} />
          <Line dataKey="ms" stroke="#9a9a9a" strokeWidth={1.4} dot={{ r: 3.2, fill: '#9a9a9a', stroke: '#9a9a9a', strokeWidth: 0 }} isAnimationActive={false} />
          <Line dataKey="rx" stroke="#333" strokeWidth={1} strokeDasharray="2 2" dot={{ r: 1.5, fill: '#222', stroke: '#222', strokeWidth: 0 }} isAnimationActive={false} />
          <Line dataKey="rs" stroke="#111" strokeWidth={1.4} dot={{ r: 3.2, fill: '#111', stroke: '#111', strokeWidth: 0 }} isAnimationActive={false} />
        </ComposedChart>
      </div>
      <T x={1130} y={741} style={{ fontSize: 20, fontFamily: SANS, color: '#111' }}>RMSE<Sub>all</Sub></T>
      <T x={1045} y={746} style={{ fontSize: 11, fontFamily: SERIF, color: '#222' }}><Nt /> = 20</T>
      <T x={1022} y={778} style={{ fontSize: 11, fontFamily: SERIF, color: '#222' }}><Nt /> &lt; 20</T>
      <T x={1092} y={803} style={{ color: '#111' }}><LogSigma size={27} /></T>
      <T x={1118} y={862} style={{ fontSize: 22, fontFamily: SANS, color: '#999' }}>MAE<Sub>all</Sub></T>
      <T x={1032} y={861} style={{ fontSize: 11, fontFamily: SERIF, color: '#999' }}><Nt /> = 20</T>
      <T x={1002} y={891} style={{ fontSize: 11, fontFamily: SERIF, color: '#999' }}><Nt /> &lt; 20</T>
      <VText x={953} y={822} style={{ fontSize: 11.5, fontFamily: SANS, color: '#222' }}>
        RMSE<Sub>all</Sub>/MAE<Sub>all</Sub> (<Unit />)
      </VText>
      <T x={1094} y={930} style={{ fontSize: 16, color: '#222' }}><IFs /></T>
    </>
  );
}

const panelLabel = { fontSize: 46, fontWeight: 900 as const, fontFamily: SANS, color: '#000', lineHeight: 0.62 };

export default function App() {
  return (
    <div style={{ position: 'relative', width: 1226, height: 960, overflow: 'hidden', background: '#fff', fontFamily: SANS }}>
      <style>{'body{margin:0} .recharts-surface{overflow:visible}'}</style>
      <T x={7} y={7} style={panelLabel}>a</T>
      <T x={418} y={14} style={panelLabel}>b</T>
      <T x={5} y={697} style={panelLabel}>c</T>
      <T x={305} y={697} style={panelLabel}>d</T>
      <T x={608} y={704} style={panelLabel}>e</T>
      <T x={922} y={697} style={panelLabel}>f</T>
      <PanelA />
      <PanelB />
      <PanelC />
      <PanelD />
      <PanelE />
      <PanelF />
      <svg width={1226} height={960} style={{ position: 'absolute', left: 0, top: 0, pointerEvents: 'none' }}>
        <path d="M123 71 L128 66 L287 66 L293 71" fill="none" stroke="#222" strokeWidth={1.2} />
        <line x1={69} y1={892} x2={112} y2={892} stroke="#23882a" strokeWidth={1.5} />
        <polygon points="119,892 110,888.5 110,895.5" fill="#23882a" />
        <line x1={376} y1={891} x2={418} y2={891} stroke="#111" strokeWidth={1.5} />
        <polygon points="425,891 416,887.5 416,894.5" fill="#111" />
      </svg>
    </div>
  );
}
